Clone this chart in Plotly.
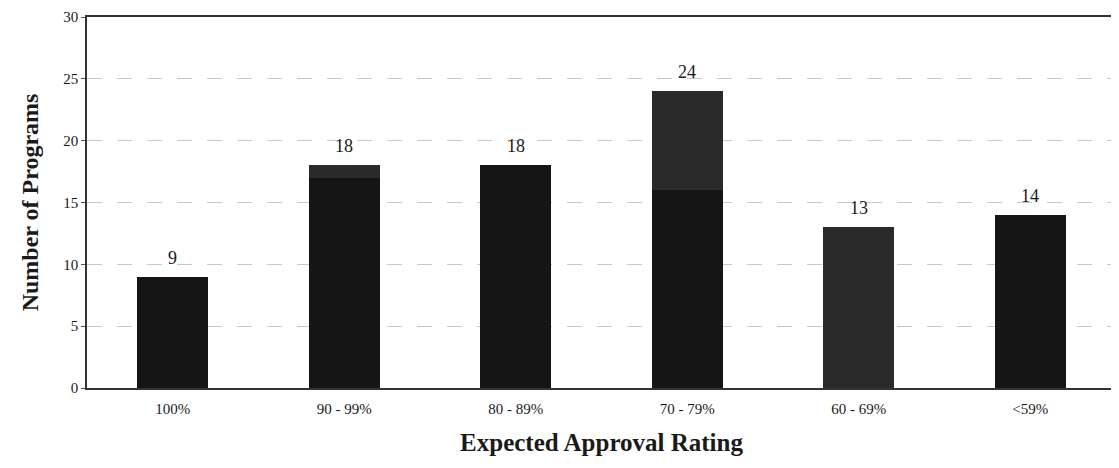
import plotly.graph_objects as go

categories = ["100%", "90 - 99%", "80 - 89%", "70 - 79%", "60 - 69%", "<59%"]
# scanned bars show a darker lower part and a slightly lighter upper part
lower_part = [9, 17, 18, 16, 0, 14]
upper_part = [0, 1, 0, 8, 13, 0]
totals = [a + b for a, b in zip(lower_part, upper_part)]
y_ticks = [0, 5, 10, 15, 20, 25, 30]

fig = go.Figure()
fig.add_trace(go.Bar(x=categories, y=lower_part, marker_color="#151515",
                     marker_line_width=0, width=0.415, showlegend=False))
fig.add_trace(go.Bar(x=categories, y=upper_part, marker_color="#2a2a2a",
                     marker_line_width=0, width=0.415, showlegend=False))

for c, t in zip(categories, totals):
    fig.add_annotation(x=c, y=t, text=str(t), showarrow=False, yanchor="bottom",
                       yshift=7, font=dict(family="Liberation Serif", size=18, color="#1a1a1a"))

fig.update_layout(
    barmode="stack",
    width=1111, height=460,
    margin=dict(l=79, r=3, t=9, b=80, autoexpand=False),
    plot_bgcolor="white", paper_bgcolor="white",
    bargap=0.585,
    font=dict(family="Liberation Serif", color="#1a1a1a"),
)
fig.update_xaxes(
    showline=True, linecolor="#333", linewidth=1.5, mirror=True,
    tickfont=dict(family="Liberation Serif", size=15, color="#1a1a1a"),
    ticklabelstandoff=6,
    title=dict(text="<b>Expected Approval Rating</b>", font=dict(family="Liberation Serif", size=25, color="#1a1a1a"), standoff=18),
    ticks="",
)
fig.update_yaxes(
    range=[0, 30], tickvals=y_ticks,
    showline=True, linecolor="#333", linewidth=1.5, mirror=True,
    showgrid=True, gridcolor="#c8c8c8", gridwidth=1, griddash="longdash",
    ticks="outside", ticklen=4, tickcolor="#555",
    tickfont=dict(family="Liberation Serif", size=15, color="#1a1a1a"),
    title=dict(text="<b>Number of Programs</b>", font=dict(family="Liberation Serif", size=24, color="#1a1a1a"), standoff=18),
    zeroline=False,
)

fig.write_html("out.html")
